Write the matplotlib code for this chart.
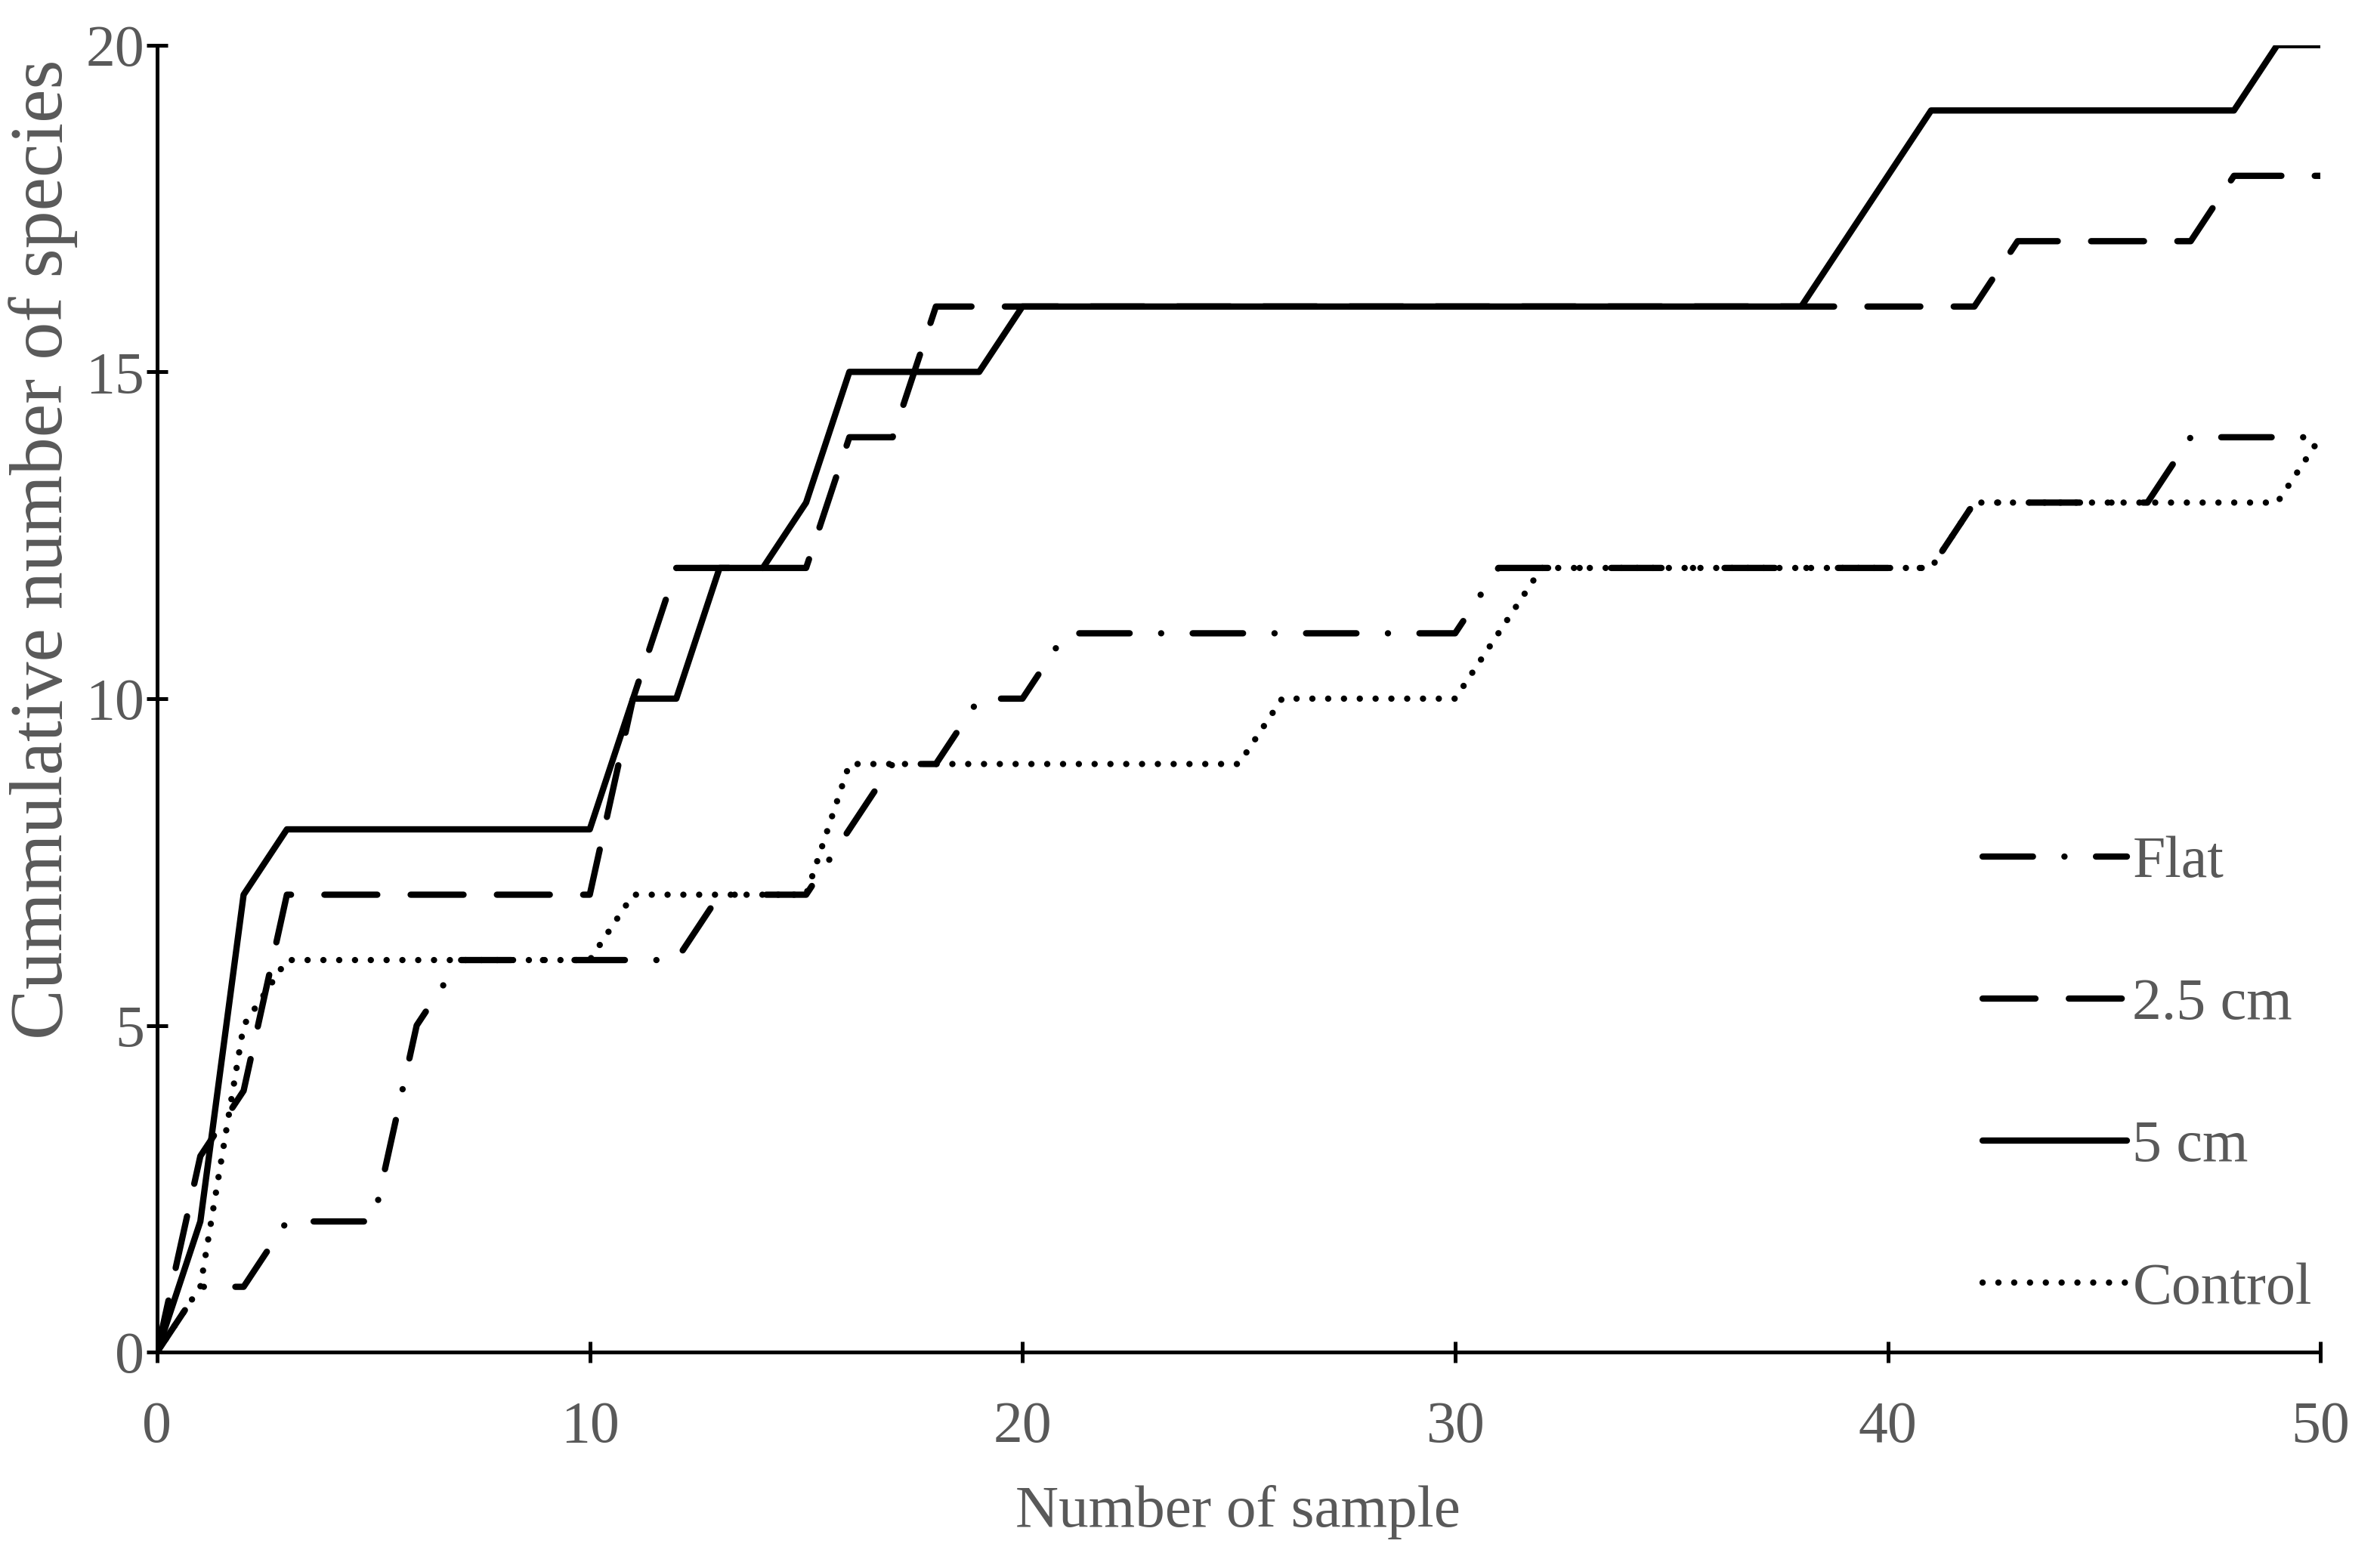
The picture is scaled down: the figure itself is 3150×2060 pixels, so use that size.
import matplotlib.pyplot as plt

# data
samples = list(range(51))

flat = [0, 1, 1, 2, 2, 2, 5, 6, 6, 6, 6, 6, 6, 7, 7, 7, 8, 9, 9, 10,
        10, 11, 11, 11, 11, 11, 11, 11, 11, 11, 11, 12, 12, 12, 12, 12, 12, 12, 12, 12,
        12, 12, 13, 13, 13, 13, 13, 14, 14, 14, 14]

cm25 = [0, 3, 4, 7, 7, 7, 7, 7, 7, 7, 7, 10, 12, 12, 12, 12, 14, 14, 16, 16,
        16, 16, 16, 16, 16, 16, 16, 16, 16, 16, 16, 16, 16, 16, 16, 16, 16, 16, 16, 16,
        16, 16, 16, 17, 17, 17, 17, 17, 18, 18, 18]

cm5 = [0, 2, 7, 8, 8, 8, 8, 8, 8, 8, 8, 10, 10, 12, 12, 13, 15, 15, 15, 15,
       16, 16, 16, 16, 16, 16, 16, 16, 16, 16, 16, 16, 16, 16, 16, 16, 16, 16, 16, 17,
       18, 19, 19, 19, 19, 19, 19, 19, 19, 20, 20]

control = [0, 1, 5, 6, 6, 6, 6, 6, 6, 6, 6, 7, 7, 7, 7, 7, 9, 9, 9, 9,
           9, 9, 9, 9, 9, 9, 10, 10, 10, 10, 10, 11, 12, 12, 12, 12, 12, 12, 12, 12,
           12, 12, 13, 13, 13, 13, 13, 13, 13, 13, 14]

labels = ["Flat", "2.5 cm", "5 cm", "Control"]
x_ticks = [0, 10, 20, 30, 40, 50]
y_ticks = [0, 5, 10, 15, 20]

text_grey = "#595959"
plt.rcParams["font.family"] = ["Liberation Serif", "DejaVu Serif"]

fig = plt.figure(figsize=(15.75, 10.3), dpi=200)
ax = fig.add_axes([0.066, 0.131, 0.909, 0.84])

lw = 3.0
ax.plot(samples, flat, color="black", lw=lw, dashes=(8, 5, 0.01, 5),
        dash_capstyle="round", label=labels[0])
ax.plot(samples, cm25, color="black", lw=lw, dashes=(8.4, 5.3),
        dash_capstyle="round", label=labels[1])
ax.plot(samples, cm5, color="black", lw=lw, solid_capstyle="round", label=labels[2])
ax.plot(samples, control, color="black", lw=lw, dashes=(0.01, 2.5),
        dash_capstyle="round", label=labels[3])

ax.set_xlim(0, 50)
ax.set_ylim(0, 20)
ax.set_xticks(x_ticks)
ax.set_yticks(y_ticks)
ax.spines["top"].set_visible(False)
ax.spines["right"].set_visible(False)
for side in ["left", "bottom"]:
    ax.spines[side].set_linewidth(1.8)
    ax.spines[side].set_color("black")
ax.tick_params(direction="inout", length=10, width=1.8, labelsize=28,
               labelcolor=text_grey)
ax.tick_params(axis="x", pad=18)
ax.tick_params(axis="y", pad=1)

fig.text(0.52, 0.028, "Number of sample", fontsize=28.5, color=text_grey,
         ha="center", va="center")
fig.text(0.018, 0.647, "Cummulative number of species", fontsize=36,
         color=text_grey, rotation=90, ha="center", va="center")

ax.legend(loc="center left", bbox_to_anchor=(0.833, 0.3085),
          bbox_transform=fig.transFigure, frameon=False, fontsize=28,
          labelcolor=text_grey, handlelength=2.45, handletextpad=0.1,
          labelspacing=1.5, borderpad=0, borderaxespad=0)

fig.savefig("out.png", dpi=200)
